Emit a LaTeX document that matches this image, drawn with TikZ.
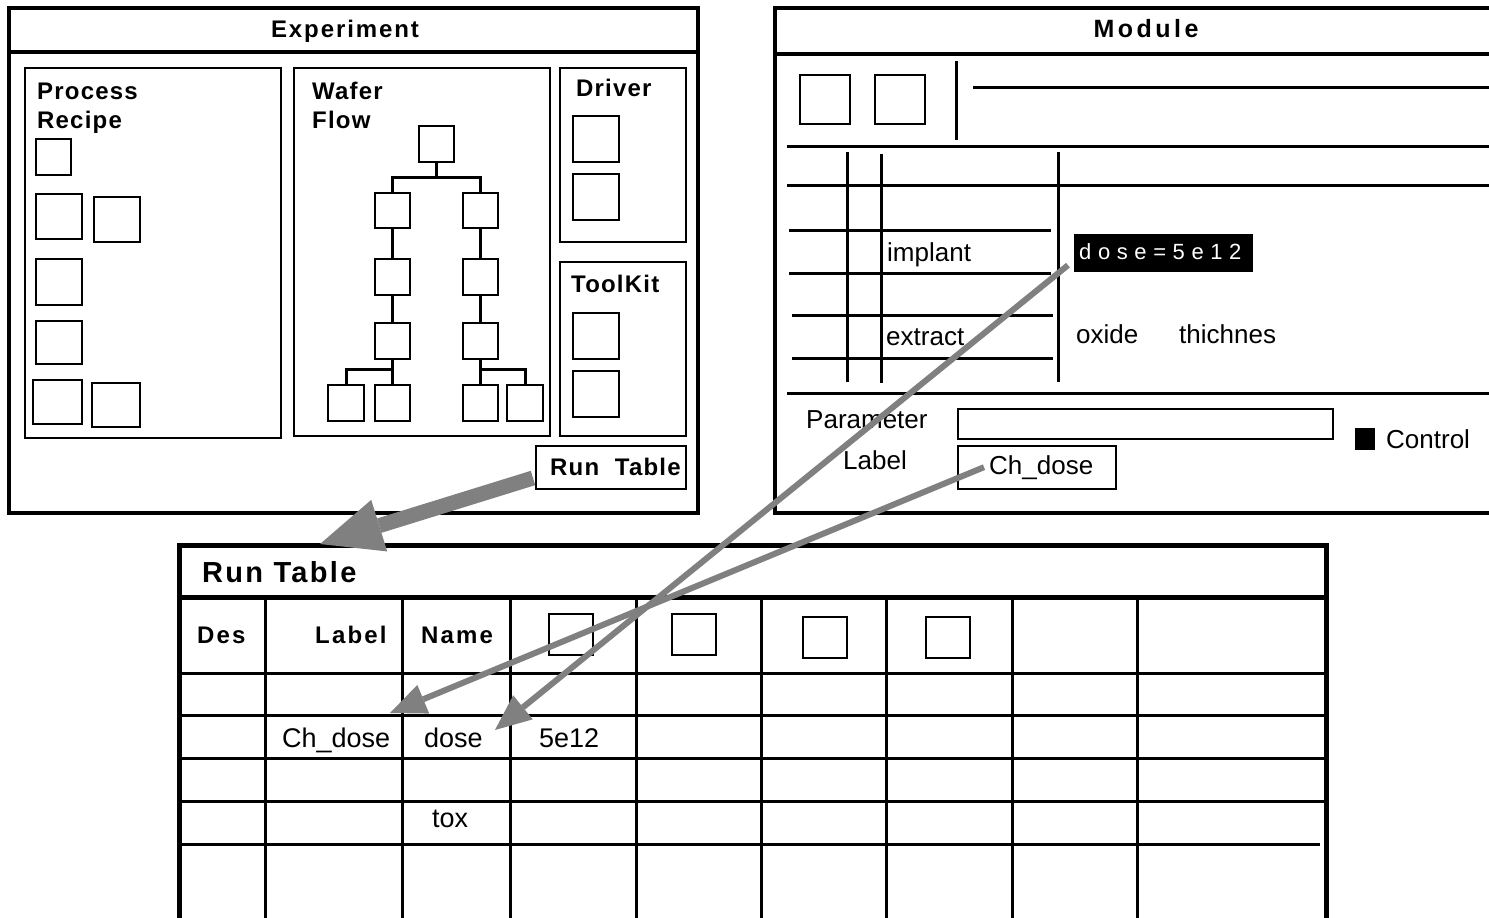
\documentclass[tikz,border=0pt]{standalone}
\usepackage{fontspec}
\setmainfont{Liberation Sans}
\usetikzlibrary{arrows.meta}
\definecolor{agray}{RGB}{128,128,128}
\newcommand{\rbox}[6]{\node[#6, anchor=north west, inner sep=0pt, outer sep=0pt, minimum width={(#4-#2)*1pt}, minimum height={(#5-#3)*1pt}] (#1) at (#2,#3) {};}
\begin{document}
\begin{tikzpicture}[x=1pt,y=-1pt,
  frm/.style={draw, line width=4.5pt},
  pnl/.style={draw, line width=2.5pt},
  sqb/.style={draw, line width=2.5pt},
  tl/.style={line width=3pt},
  ml/.style={line width=3pt},
  gl/.style={line width=3pt},
  btxt/.style={inner sep=0pt, font=\fontsize{24}{27}\selectfont\bfseries\addfontfeatures{LetterSpace=5}},
  ttl/.style={inner sep=0pt, font=\fontsize{24}{27}\selectfont\bfseries\addfontfeatures{LetterSpace=8}},
  ttlb/.style={inner sep=0pt, font=\fontsize{25}{28}\selectfont\bfseries\addfontfeatures{LetterSpace=14}},
  hdr/.style={inner sep=0pt, font=\fontsize{24}{27}\selectfont\bfseries\addfontfeatures{LetterSpace=9}},
  rttl/.style={inner sep=0pt, font=\fontsize{29}{32}\selectfont\bfseries\addfontfeatures{LetterSpace=8}},
  rtxt/.style={inner sep=0pt, font=\fontsize{26}{30}\selectfont},
  ctxt/.style={inner sep=0pt, font=\fontsize{27}{30}\selectfont},
  dtxt/.style={inner sep=0pt, text=white, font=\fontsize{22}{24}\selectfont\addfontfeatures{LetterSpace=30}},
  bigarr/.style={draw=agray, line width=15pt, -{Triangle[length=62pt,width=54pt,line width=0pt]}},
  thinarr/.style={draw=agray, line width=6pt, -{Triangle[length=36pt,width=31pt,line width=0pt]}}
]
\fill[white] (0,0) rectangle (1489,918);
\useasboundingbox (0,0) rectangle (1489,918);
\clip (0,0) rectangle (1489,918);

% ---------------- Experiment ----------------
\rbox{exp}{9}{8}{698}{513}{frm}
\draw[line width=4.5pt] (exp.west |- 0,52) -- (exp.east |- 0,52);
\node[ttl, anchor=base] (exptitle) at (345,37) {Experiment};

\rbox{proc}{25}{68}{281}{438}{pnl}
\rbox{wafer}{294}{68}{550}{436}{pnl}
\rbox{driver}{560}{68}{686}{242}{pnl}
\rbox{toolkit}{560}{262}{686}{436}{pnl}
\rbox{rtbtn}{536}{446}{686}{489}{pnl}

\node[btxt, anchor=base west] (tproc) at (37,99) {Process};
\node[btxt, anchor=base west] (trec) at (37,128) {Recipe};
\node[btxt, anchor=base west] (twaf) at (312,99) {Wafer};
\node[btxt, anchor=base west] (tflow) at (312,128) {Flow};
\node[btxt, anchor=base west] (tdrv) at (576,96) {Driver};
\node[btxt, anchor=base west] (ttk) at (571,292) {ToolKit};
\node[btxt, anchor=base west] (trtb) at (550,475) {Run~ Table};

\rbox{p1}{36}{139}{71}{175}{sqb}
\rbox{p2}{36}{194}{82}{239}{sqb}
\rbox{p3}{94}{197}{140}{242}{sqb}
\rbox{p4}{36}{259}{82}{305}{sqb}
\rbox{p5}{36}{321}{82}{364}{sqb}
\rbox{p6}{33}{380}{82}{424}{sqb}
\rbox{p7}{92}{383}{140}{427}{sqb}

\rbox{wt}{419}{126}{454}{162}{sqb}
\rbox{wl1}{375}{193}{410}{228}{sqb}
\rbox{wr1}{463}{193}{498}{228}{sqb}
\rbox{wl2}{375}{259}{410}{295}{sqb}
\rbox{wr2}{463}{259}{498}{295}{sqb}
\rbox{wl3}{375}{323}{410}{359}{sqb}
\rbox{wr3}{463}{323}{498}{359}{sqb}
\rbox{wb1}{328}{385}{364}{421}{sqb}
\rbox{wb2}{375}{385}{410}{421}{sqb}
\rbox{wb3}{463}{385}{498}{421}{sqb}
\rbox{wb4}{507}{385}{543}{421}{sqb}
\draw[tl] (wt.south) -- ++(0,15) -| (wl1.north);
\draw[tl] (wt.south) -- ++(0,15) -| (wr1.north);
\draw[tl] (wl1.south) -- (wl2.north);
\draw[tl] (wl2.south) -- (wl3.north);
\draw[tl] (wr1.south) -- (wr2.north);
\draw[tl] (wr2.south) -- (wr3.north);
\draw[tl] (wl3.south) -- (wb2.north);
\draw[tl] (wl3.south) -- ++(0,10) -| (wb1.north);
\draw[tl] (wr3.south) -- (wb3.north);
\draw[tl] (wr3.south) -- ++(0,10) -| (wb4.north);

\rbox{d1}{573}{116}{619}{162}{sqb}
\rbox{d2}{573}{174}{619}{220}{sqb}
\rbox{k1}{573}{313}{619}{359}{sqb}
\rbox{k2}{573}{371}{619}{417}{sqb}

% ---------------- Module ----------------
\rbox{mod}{775}{8}{1510}{513}{frm}
\draw[line width=4.5pt] (mod.west |- 0,54) -- (mod.east |- 0,54);
\node[ttlb, anchor=base] (modtitle) at (1146,37) {Module};
\rbox{m1}{800}{75}{850}{124}{sqb}
\rbox{m2}{875}{75}{925}{124}{sqb}
\draw[ml] (956,61) -- (956,140);
\draw[ml] (973,87) -- (1489,87);
\draw[ml] (787,146) -- (1489,146);
\draw[ml] (787,185) -- (1489,185);
\draw[ml] (847,152) -- (847,382);
\draw[ml] (881,154) -- (881,383);
\draw[ml] (1058,152) -- (1058,382);
\draw[ml] (789,230) -- (1051,230);
\draw[ml] (789,273) -- (1051,273);
\draw[ml] (792,315) -- (1053,315);
\draw[ml] (792,358) -- (1053,358);
\draw[ml] (787,393) -- (1489,393);
\node[rtxt, anchor=base west] (timpl) at (887,261) {implant};
\node[rtxt, anchor=base west] (textr) at (886,345) {extract};
\node[fill=black, anchor=north west, inner sep=0pt, minimum width=179pt, minimum height=38pt] (dosebox) at (1074,234) {};
\node[dtxt, anchor=base west] (dosetxt) at (1079,259) {dose=5e12};
\node[rtxt, anchor=base west] (toxide) at (1076,343) {oxide};
\node[rtxt, anchor=base west] (tthich) at (1179,343) {thichnes};
\node[rtxt, anchor=base west] (tparam) at (806,428) {Parameter};
\node[rtxt, anchor=base west] (tlabel) at (843,469) {Label};
\rbox{pfield}{958}{409}{1333}{439}{sqb}
\rbox{lfield}{958}{446}{1116}{489}{sqb}
\node[rtxt, anchor=base west] (chtxt) at (989,474) {Ch\_dose};
\node[fill=black, anchor=north west, inner sep=0pt, minimum width=20pt, minimum height=22pt] (ctrlbox) at (1355,428) {};
\node[rtxt, anchor=base west] (tctrl) at (1386,448) {Control};

% ---------------- Run Table ----------------
\rbox{rt}{179}{545}{1326}{960}{draw, line width=5pt}
\draw[line width=5pt] (rt.west |- 0,597) -- (rt.east |- 0,597);
\foreach \yy in {673,715,758,801} \draw[gl] (179,\yy) -- (1326,\yy);
\draw[gl] (177,844) -- (1320,844);
\foreach \xx in {265,402,510,636,761,886,1012,1137} \draw[gl] (\xx,597) -- (\xx,918);
\rbox{h1}{549}{614}{593}{655}{sqb}
\rbox{h2}{672}{614}{716}{655}{sqb}
\rbox{h3}{803}{617}{847}{658}{sqb}
\rbox{h4}{926}{617}{970}{658}{sqb}
\node[rttl, anchor=base west] (rttitle) at (202,582) {Run Table};
\node[hdr, anchor=base west] (hdes) at (197,643) {Des};
\node[hdr, anchor=base west] (hlab) at (315,643) {Label};
\node[hdr, anchor=base west] (hname) at (421,643) {Name};
\node[ctxt, anchor=base west] (cch) at (282,747) {Ch\_dose};
\node[ctxt, anchor=base west] (cdose) at (424,747) {dose};
\node[ctxt, anchor=base west] (cval) at (539,747) {5e12};
\node[ctxt, anchor=base west] (ctox) at (432,827) {tox};

% ---------------- Arrows ----------------
\coordinate (tipA) at (320,544);
\coordinate (tipB) at (495,730);
\coordinate (tipC) at (390,713);
\draw[bigarr] ([xshift=-3pt,yshift=-10.5pt]rtbtn.west) -- (tipA);
\draw[thinarr] ([xshift=-6pt,yshift=-12pt]dosebox.west) -- (tipB);
\draw[thinarr] ([xshift=-5pt]chtxt.west) -- (tipC);
\end{tikzpicture}
\end{document}
